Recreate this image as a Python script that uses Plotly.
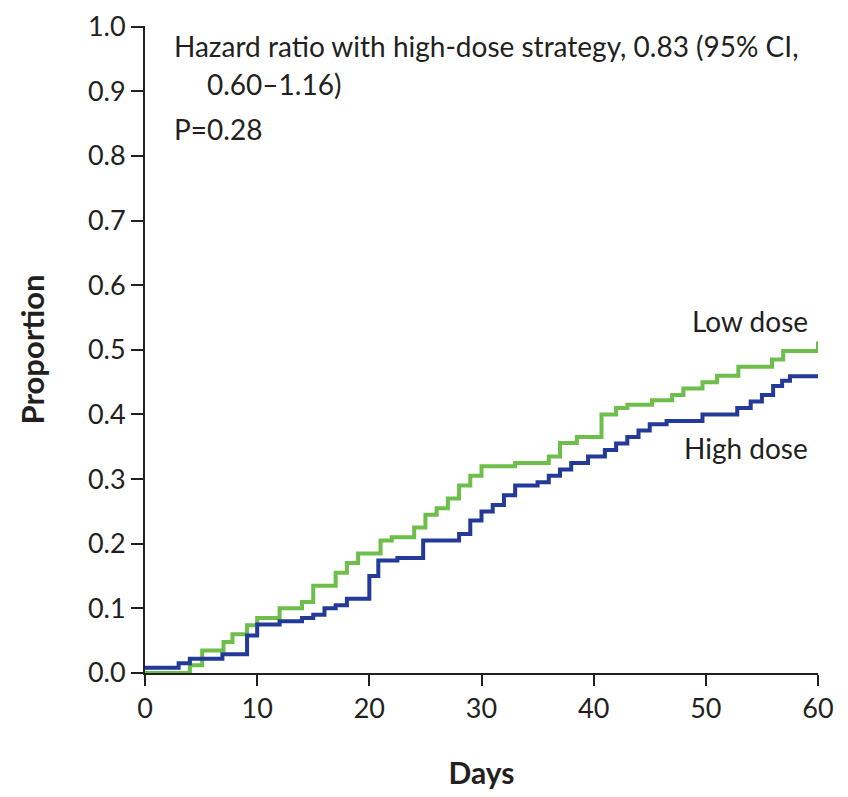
import plotly.graph_objects as go

# Low dose (green) step curve
low_t = [0, 4, 5.1, 7, 7.8, 9.1, 10, 12, 14, 15, 17, 18, 19, 21, 22, 24, 25, 26, 27, 28, 29, 30,
         33, 36, 37, 38.5, 40.7, 42, 43, 45.2, 47, 48, 49.7, 51, 52.9, 55.9, 56.9, 60]
low_v = [0, 0.012, 0.035, 0.048, 0.06, 0.074, 0.085, 0.1, 0.11, 0.135, 0.155, 0.17, 0.185, 0.205,
         0.21, 0.225, 0.245, 0.255, 0.27, 0.29, 0.305, 0.32, 0.325, 0.335, 0.356, 0.365, 0.40, 0.41,
         0.415, 0.422, 0.43, 0.44, 0.45, 0.46, 0.474, 0.485, 0.498, 0.513]

# High dose (blue) step curve
high_t = [0, 3, 4, 6.9, 9.1, 10, 12, 14, 15, 16, 17, 18, 20, 20.8, 22.5, 24.8, 28, 29, 30, 31, 32,
          33, 35, 36, 37, 38, 39.5, 41, 42, 43, 44, 45, 46.5, 49.7, 52.8, 54, 55, 56, 56.8, 57.5, 60]
high_v = [0.008, 0.015, 0.022, 0.029, 0.058, 0.075, 0.08, 0.085, 0.09, 0.1, 0.105, 0.115, 0.15,
          0.174, 0.178, 0.205, 0.215, 0.236, 0.25, 0.26, 0.275, 0.29, 0.295, 0.305, 0.315, 0.325,
          0.335, 0.345, 0.355, 0.365, 0.375, 0.385, 0.39, 0.40, 0.41, 0.42, 0.43, 0.444, 0.452,
          0.459, 0.459]

x_ticks = [0, 10, 20, 30, 40, 50, 60]
y_ticks = [round(i * 0.1, 1) for i in range(11)]
y_tick_labels = [f"{v:.1f}" for v in y_ticks]

FONT = "Lato, Open Sans, sans-serif"
TXT = "#231f20"
GREEN = "#6dbe4b"
BLUE = "#233a98"

fig = go.Figure()
fig.add_trace(go.Scatter(x=low_t, y=low_v, mode="lines", line=dict(color=GREEN, width=4, shape="hv"),
                         name="Low dose", showlegend=False))
fig.add_trace(go.Scatter(x=high_t, y=high_v, mode="lines", line=dict(color=BLUE, width=4, shape="hv"),
                         name="High dose", showlegend=False))

fig.update_layout(
    width=840, height=789,
    margin=dict(l=137, r=30, t=18, b=124),
    plot_bgcolor="white", paper_bgcolor="white",
    font=dict(family=FONT, size=27, color=TXT),
    xaxis=dict(range=[0, 60], tickvals=x_ticks, ticks="outside", ticklen=11, tickwidth=2,
               tickcolor=TXT, showline=True, linecolor=TXT, linewidth=2, showgrid=False,
               zeroline=False, tickfont=dict(size=27), ticklabeloverflow="allow",
               automargin="bottom",
               title=dict(text="<b>Days</b>", font=dict(size=30), standoff=40)),
    yaxis=dict(range=[0, 1.001], tickvals=y_ticks, ticktext=y_tick_labels, ticks="outside",
               ticklen=12, tickwidth=2, tickcolor=TXT, showline=True, linecolor=TXT, linewidth=2,
               showgrid=False, zeroline=False, tickfont=dict(size=27), ticklabeloverflow="allow",
               automargin="left",
               title=dict(text="<b>Proportion</b>", font=dict(size=31), standoff=34)),
)

ann = dict(xref="paper", yref="paper", showarrow=False, font=dict(size=28, color=TXT))
fig.add_annotation(x=0.04, y=0.969, xanchor="left", yanchor="middle",
                   text="Hazard ratio with high-dose strategy, 0.83 (95% CI,", **ann)
fig.add_annotation(x=0.089, y=0.911, xanchor="left", yanchor="middle",
                   text="0.60\u20131.16)", **ann)
fig.add_annotation(x=0.04, y=0.841, xanchor="left", yanchor="middle", text="P=0.28", **ann)
fig.add_annotation(x=59.3, y=0.544, xref="x", yref="y", xanchor="right", yanchor="middle",
                   showarrow=False, text="Low dose", font=dict(size=28, color=TXT))
fig.add_annotation(x=59.3, y=0.348, xref="x", yref="y", xanchor="right", yanchor="middle",
                   showarrow=False, text="High dose", font=dict(size=28, color=TXT))

fig.write_html("out.html")
